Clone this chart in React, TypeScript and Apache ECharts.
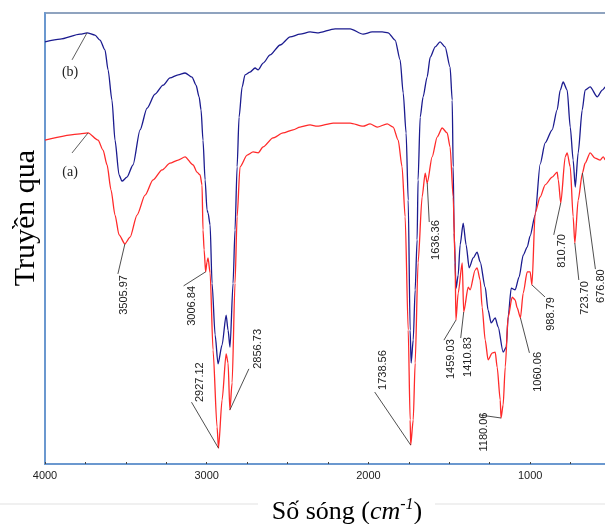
import React, { useEffect, useRef } from "react";
import * as echarts from "echarts";

// Curve (b) – blue
const waveB = [4000,3907,3783,3740,3691,3660,3629,3610,3586,3567,
  3542,3524,3493,3456,3412,3369,3320,3270,3227,3177,
  3134,3091,3066,3047,3035,3023,3010,2998,2992,2979,
  2967,2948,2930,2905,2880,2868,2856,2837,2825,2812,
  2800,2781,2763,2732,2701,2682,2651,2608,2546,2484,
  2423,2361,2317,2206,2113,2033,1977,1915,1878,1835,
  1804,1785,1767,1754,1742,1736,1723,1711,1699,1693,
  1680,1662,1637,1618,1587,1557,1526,1495,1482,1476,
  1470,1458,1445,1433,1414,1396,1377,1352,1328,1309,
  1278,1260,1241,1216,1198,1167,1148,1136,1117,1093,
  1068,1043,1018,1000,969,938,907,864,833,814,
  796,771,752,734,721,703,678,660,629,585,
  554,536];
const transB = [93.6,94.2,95.3,95.6,95.1,94.0,91.8,87.4,80.7,71.8,
  64.1,62.7,63.6,66.3,74.1,78.9,82.0,84.0,85.6,86.3,
  86.7,85.8,84.0,81.4,78.5,71.8,63.0,56.3,55.7,53.0,
  40.1,28.6,22.2,26.4,33.0,29.7,25.9,40.1,51.9,65.9,
  76.9,83.6,86.3,86.9,87.8,87.4,88.9,90.7,92.9,94.7,
  95.3,95.8,95.6,96.5,96.5,95.3,95.8,95.8,95.6,94.0,
  89.6,82.3,73.4,58.5,29.7,22.4,27.5,38.6,49.7,63.0,
  76.9,81.4,85.8,90.2,92.5,93.6,92.5,88.0,80.7,65.9,
  51.2,39.0,41.9,48.6,53.4,48.6,43.5,45.7,47.0,44.8,
  39.2,34.1,31.3,32.4,30.4,24.8,25.9,32.6,39.0,38.6,
  41.5,46.3,48.1,50.6,55.2,66.5,71.2,74.1,78.5,82.9,
  84.7,82.9,74.7,67.4,61.4,69.0,78.5,82.9,83.6,81.4,
  82.9,83.6];

// Curve (a) – red
const waveA = [4000,3783,3734,3672,3641,3616,3592,3567,3542,3505.97,
  3474,3431,3381,3332,3276,3227,3177,3134,3084,3060,
  3041,3029,3023,3016,3006.84,2998,2992,2979,2961,2936,
  2927.12,2905,2880,2868,2856.73,2843,2825,2812,2794,2750,
  2713,2682,2651,2590,2528,2466,2423,2361,2317,2218,
  2113,2033,1990,1946,1884,1847,1816,1792,1773,1754,
  1742,1738.56,1723,1711,1693,1668,1649,1636.36,1606,1575,
  1544,1513,1495,1476,1464,1459.03,1445,1420,1410.83,1383,
  1371,1340,1328,1309,1297,1278,1260,1235,1216,1204,
  1185,1180.06,1167,1154,1136,1111,1093,1080,1060.06,1043,
  1018,1000,988.79,969,938,907,864,833,826,810.70,
  783,771,752,734,723.70,703,676.80,660,629,598,
  567,548,536];
const transA = [71.8,73.2,73.4,71.8,69.6,66.3,60.8,55.2,50.8,48.8,
  50.3,55.2,59.6,63.0,65.2,66.7,67.4,68.1,66.3,64.7,
  64.1,61.9,51.9,47.5,42.6,44.8,45.7,42.4,25.3,8.2,
  3.5,14.2,24.4,22.4,12.0,18.0,40.1,54.8,65.9,68.5,
  69.2,69.0,70.3,72.3,73.4,74.1,74.7,75.2,74.9,75.6,
  75.6,74.9,75.4,74.7,75.4,74.7,71.8,65.9,54.8,29.7,
  9.8,4.2,9.8,22.4,44.6,59.2,64.5,62.3,68.1,72.5,
  74.5,73.4,70.3,59.2,44.6,31.9,37.9,44.6,33.7,39.2,
  38.6,43.0,43.5,40.8,34.8,27.5,23.1,24.6,24.8,21.5,
  14.2,10.2,13.1,21.5,32.6,37.0,36.4,34.6,32.4,37.9,
  42.6,42.6,39.7,55.7,59.2,61.9,63.6,64.7,63.0,57.9,
  68.1,69.0,65.9,54.8,49.0,58.5,64.5,66.7,69.0,67.8,
  67.4,68.1,67.4];

const xTickLabels = [4000, 3000, 2000, 1000];

// Peak annotations on curve (a)
const peakLabels = ["3505.97","3006.84","2927.12","2856.73","1738.56","1636.36","1459.03",
  "1410.83","1180.06","1060.06","988.79","810.70","723.70","676.80"];
const peakWaves = [3505.97,3006.84,2927.12,2856.73,1738.56,1636.36,1459.03,
  1410.83,1180.06,1060.06,988.79,810.70,723.70,676.80];

// Curve names
const curveNames = ["(b)", "(a)"];
const curveNameWaves = [3740, 3734];

const yTitle = "Truyền qua";

// Layout (pixel offsets of leader end and text centre from the anchor)
const peakLayout = [
  [-7, 30, -2, 51], [-22, 14, -15, 34], [-27, -46, -20, -66], [19, -41, 27, -61],
  [-36, -53, -29, -75], [2, 39, 8, 57], [-12, 20, -6, 39], [-3, 26, 3, 45],
  [-21, -3, -18, 14], [9, 35, 17, 54], [13, 12, 18, 29], [-7, 32, 0, 48],
  [4, 37, 9, 55], [13, 96, 18, 113],
];
const curveNameLayout = [[-15, 27, -17, 39], [-16, 20, -18, 39]];

export default function App() {
  const ref = useRef<HTMLDivElement>(null);
  useEffect(() => {
    const chart = echarts.init(ref.current!, null, { renderer: "svg" });
    const dataB = waveB.map((w, i) => [w, transB[i]]);
    const dataA = waveA.map((w, i) => [w, transA[i]]);
    const axisBlue = "#6b98cf";
    chart.setOption({
      animation: false,
      grid: {
        left: 45, top: 13, width: 566, bottom: 60, show: true,
        outerBoundsMode: "none", containLabel: false,
        borderColor: "#8fa3bf", borderWidth: 2, backgroundColor: "transparent",
      },
      xAxis: {
        type: "value", inverse: true, min: 500, max: 4000, interval: 250,
        axisLine: { show: true, lineStyle: { color: axisBlue, width: 2 } },
        axisTick: { show: true, inside: true, length: 2, lineStyle: { color: "#444", width: 1 } },
        axisLabel: {
          margin: 5, fontFamily: "Liberation Sans", fontSize: 11, color: "#222",
          formatter: (v: number) => (xTickLabels.indexOf(v) >= 0 ? String(v) : ""),
        },
        splitLine: { show: false },
      },
      yAxis: {
        type: "value", min: 0, max: 100,
        axisLine: { show: true, lineStyle: { color: axisBlue, width: 2 } },
        axisTick: { show: false }, axisLabel: { show: false }, splitLine: { show: false },
      },
      series: [
        { name: "(b)", type: "line", data: dataB, showSymbol: false, symbol: "none",
          smooth: 0.25, smoothMonotone: "x",
          lineStyle: { color: "#1b1b8f", width: 1.3 }, z: 2 },
        { name: "(a)", type: "line", data: dataA, showSymbol: false, symbol: "none",
          smooth: 0.25, smoothMonotone: "x",
          lineStyle: { color: "#ff2a2a", width: 1.3 }, z: 3 },
      ],
    });

    const graphics: any[] = [];
    const lineStyle = { stroke: "#222", lineWidth: 0.8 };
    peakLabels.forEach((lab, i) => {
      const idx = waveA.indexOf(peakWaves[i]);
      const p = chart.convertToPixel({ seriesIndex: 1 }, [waveA[idx], transA[idx]]) as number[];
      const [lx, ly, tx, ty] = peakLayout[i];
      graphics.push({ type: "line", shape: { x1: p[0], y1: p[1], x2: p[0] + lx, y2: p[1] + ly }, style: lineStyle, z: 10 });
      graphics.push({
        type: "text", x: p[0] + tx, y: p[1] + ty, rotation: Math.PI / 2, z: 11,
        style: { text: lab, fontFamily: "Liberation Sans", fontSize: 11, fill: "#222", align: "center", verticalAlign: "middle" },
      });
    });
    curveNames.forEach((nm, i) => {
      const waves = i === 0 ? waveB : waveA;
      const vals = i === 0 ? transB : transA;
      const idx = waves.indexOf(curveNameWaves[i]);
      const p = chart.convertToPixel({ seriesIndex: i }, [waves[idx], vals[idx]]) as number[];
      const [lx, ly, tx, ty] = curveNameLayout[i];
      graphics.push({ type: "line", shape: { x1: p[0], y1: p[1], x2: p[0] + lx, y2: p[1] + ly }, style: { stroke: "#333", lineWidth: 0.8 }, z: 10 });
      graphics.push({
        type: "text", x: p[0] + tx, y: p[1] + ty, z: 11,
        style: { text: nm, fontFamily: "Liberation Serif", fontSize: 14, fill: "#222", align: "center", verticalAlign: "middle" },
      });
    });
    graphics.push({
      type: "text", x: 23, y: 218, rotation: Math.PI / 2,
      style: { text: yTitle, fontFamily: "Liberation Serif", fontSize: 30, fill: "#000", align: "center", verticalAlign: "middle" },
    });
    graphics.push({
      type: "text", x: 347, y: 510,
      style: {
        text: "{a|Số sóng (}{i|cm}{s|-1}{a|)}", align: "center", verticalAlign: "middle",
        rich: {
          a: { fontFamily: "Liberation Serif", fontSize: 26, fill: "#000", lineHeight: 30 },
          i: { fontFamily: "Liberation Serif", fontSize: 26, fontStyle: "italic", fill: "#000", lineHeight: 30 },
          s: { fontFamily: "Liberation Serif", fontSize: 16, fontStyle: "italic", fill: "#000", lineHeight: 15, verticalAlign: "top" },
        },
      },
    });
    graphics.push({ type: "line", shape: { x1: 0, y1: 504, x2: 258, y2: 504 }, style: { stroke: "#ebebeb", lineWidth: 1.5 } });
    graphics.push({ type: "line", shape: { x1: 435, y1: 504, x2: 605, y2: 504 }, style: { stroke: "#ebebeb", lineWidth: 1.5 } });
    chart.setOption({ graphic: graphics });
    return () => chart.dispose();
  }, []);
  return <div ref={ref} style={{ position: "fixed", left: 0, top: 0, width: 605, height: 524 }} />;
}
